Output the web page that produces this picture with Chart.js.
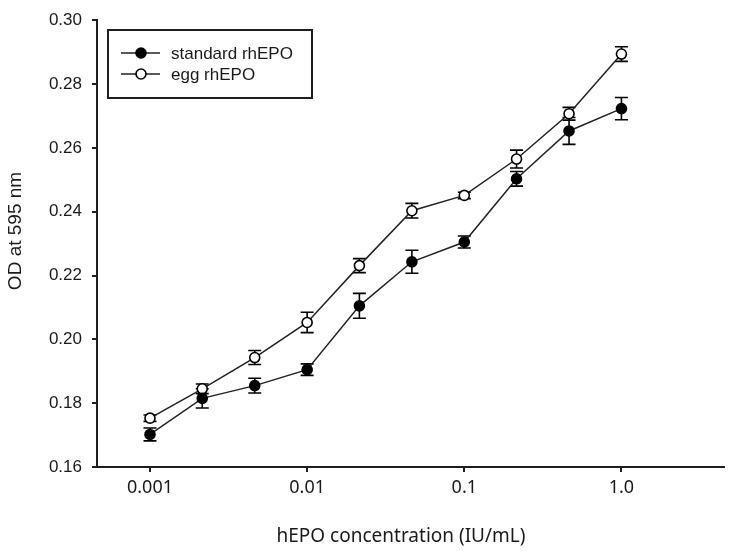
<!DOCTYPE html>
<html><head><meta charset="utf-8">
<script src="https://cdn.jsdelivr.net/npm/chart.js@4/dist/chart.umd.min.js"></script>
<style>html,body{margin:0;padding:0;background:#fff;} canvas{display:block;}</style>
</head><body>
<canvas id="c" width="731" height="551"></canvas>
<script>
// ---- data ----
const concentrations = [0.001, 0.00215, 0.00464, 0.01, 0.0215, 0.0464, 0.1, 0.215, 0.464, 1.0];
const standardOD  = [0.1702, 0.1815, 0.1855, 0.1905, 0.2105, 0.2243, 0.2305, 0.2503, 0.2653, 0.2723];
const standardErr = [0.0020, 0.0030, 0.0023, 0.0018, 0.0039, 0.0036, 0.0019, 0.0023, 0.0042, 0.0035];
const eggOD  = [0.1753, 0.1845, 0.1943, 0.2053, 0.2231, 0.2403, 0.2451, 0.2565, 0.2707, 0.2894];
const eggErr = [0.0010, 0.0015, 0.0022, 0.0032, 0.0022, 0.0023, 0.0010, 0.0028, 0.0020, 0.0023];
const seriesLabels = ['standard rhEPO', 'egg rhEPO'];
const xTickValues = [0.001, 0.01, 0.1, 1.0];
const xTickLabels = ['0.001', '0.01', '0.1', '1.0'];
const yTickValues = [0.16, 0.18, 0.20, 0.22, 0.24, 0.26, 0.28, 0.30];
const xTitle = 'hEPO concentration (IU/mL)';
const yTitle = 'OD at 595 nm';

const AXIS = '#1e1e1e';
const TEXT = '#1a1a1a';

function pts(ys){ return concentrations.map((x,i)=>({x:x, y:ys[i]})); }

const errorBars = {
  id: 'errorBars',
  beforeDatasetsDraw(chart){
    const {ctx, scales:{x, y}} = chart;
    const errs = [standardErr, eggErr];
    ctx.save();
    ctx.strokeStyle = '#000';
    ctx.lineWidth = 1.6;
    chart.data.datasets.forEach((ds, di) => {
      ds.data.forEach((p, i) => {
        const px = x.getPixelForValue(p.x);
        const top = y.getPixelForValue(p.y + errs[di][i]);
        const bot = y.getPixelForValue(p.y - errs[di][i]);
        ctx.beginPath();
        ctx.moveTo(px, top); ctx.lineTo(px, bot);
        ctx.moveTo(px - 6.5, top); ctx.lineTo(px + 6.5, top);
        ctx.moveTo(px - 6.5, bot); ctx.lineTo(px + 6.5, bot);
        ctx.stroke();
      });
    });
    ctx.restore();
  }
};

const decorations = {
  id: 'decorations',
  afterDraw(chart){
    const ctx = chart.ctx;
    ctx.save();
    // axis titles
    ctx.fillStyle = TEXT;
    ctx.textAlign = 'center';
    ctx.textBaseline = 'middle';
    ctx.font = '19px "Noto Sans", sans-serif';
    ctx.fillText(xTitle, 401, 537);
    ctx.save();
    ctx.translate(16, 231);
    ctx.rotate(-Math.PI/2);
    ctx.font = '19px "Liberation Sans", Arial, sans-serif';
    ctx.fillText(yTitle, 0, 0);
    ctx.restore();
    // legend box
    ctx.strokeStyle = AXIS;
    ctx.lineWidth = 2;
    ctx.strokeRect(108, 30, 204, 68);
    const rows = [53, 74];
    chart.data.datasets.forEach((ds, i) => {
      const yy = rows[i];
      ctx.strokeStyle = '#222';
      ctx.lineWidth = 1.5;
      ctx.beginPath(); ctx.moveTo(121, yy); ctx.lineTo(160, yy); ctx.stroke();
      ctx.beginPath(); ctx.arc(141, yy, 5, 0, Math.PI*2);
      ctx.fillStyle = ds.pointBackgroundColor; ctx.fill();
      ctx.strokeStyle = '#000'; ctx.lineWidth = 1.6; ctx.stroke();
      ctx.fillStyle = TEXT;
      ctx.textAlign = 'left';
      ctx.font = '17px "Liberation Sans", Arial, sans-serif';
      ctx.fillText(ds.label, 171, yy + 1);
    });
    ctx.restore();
  }
};

new Chart(document.getElementById('c'), {
  type: 'line',
  data: {
    datasets: [
      { label: seriesLabels[0], data: pts(standardOD), borderColor: '#222', borderWidth: 1.5,
        pointRadius: 5, pointHoverRadius: 5, pointBackgroundColor: '#000', pointBorderColor: '#000', pointBorderWidth: 1.6, tension: 0 },
      { label: seriesLabels[1], data: pts(eggOD), borderColor: '#222', borderWidth: 1.5,
        pointRadius: 5, pointHoverRadius: 5, pointBackgroundColor: '#fff', pointBorderColor: '#000', pointBorderWidth: 1.6, tension: 0 }
    ]
  },
  options: {
    responsive: false,
    animation: false,
    devicePixelRatio: 1,
    layout: { padding: { top: 15, right: 6, left: 0, bottom: 0 } },
    plugins: { legend: { display: false }, tooltip: { enabled: false } },
    scales: {
      x: {
        type: 'logarithmic',
        min: 0.00046, max: 4.52,
        afterFit: s => { s.height = 84; },
        afterBuildTicks: s => { s.ticks = xTickValues.map(v => ({ value: v })); },
        border: { color: AXIS, width: 2 },
        grid: { display: true, drawOnChartArea: false, drawTicks: true, tickLength: 5, color: AXIS, lineWidth: 2 },
        ticks: {
          autoSkip: false, maxRotation: 0, padding: 5, color: TEXT,
          font: { family: '"Noto Sans", sans-serif', size: 18 },
          callback: (v) => { const i = xTickValues.indexOf(v); return i >= 0 ? xTickLabels[i] : ''; }
        }
      },
      y: {
        type: 'linear',
        min: 0.16, max: 0.30,
        afterFit: s => { s.width = 97; },
        afterBuildTicks: s => { s.ticks = yTickValues.map(v => ({ value: v })); },
        border: { color: AXIS, width: 2 },
        grid: { display: true, drawOnChartArea: false, drawTicks: true, tickLength: 5, color: AXIS, lineWidth: 2 },
        ticks: {
          padding: 10, color: TEXT,
          font: { family: '"Liberation Sans", Arial, sans-serif', size: 17 },
          callback: (v) => Number(v).toFixed(2)
        }
      }
    }
  },
  plugins: [errorBars, decorations]
});
</script>
</body></html>
